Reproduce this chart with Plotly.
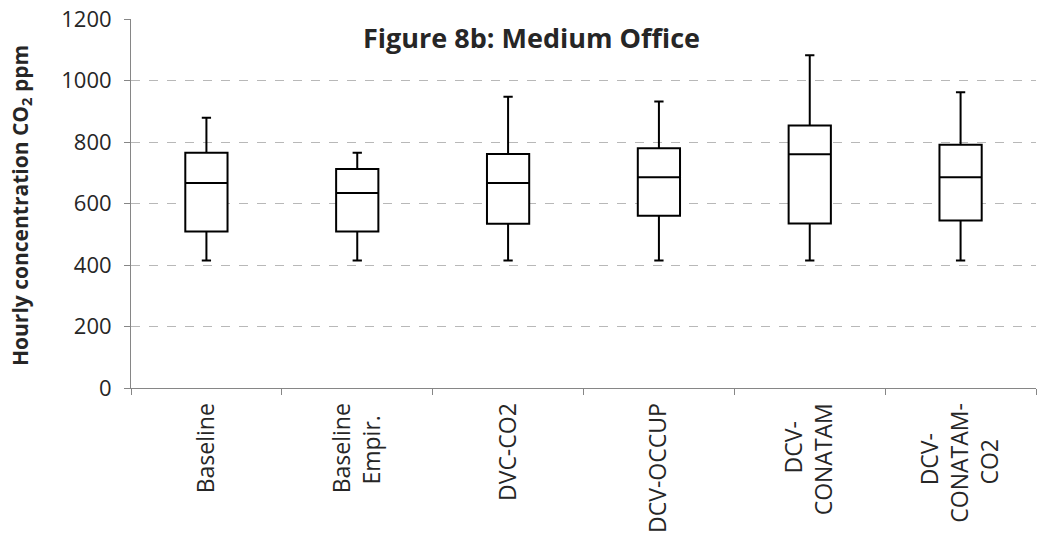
import plotly.graph_objects as go

categories = ["Baseline", "Baseline<br>Empir.", "DVC-CO2", "DCV-OCCUP",
              "DCV-<br>CONATAM", "DCV-<br>CONATAM-<br>CO2"]
lower = [415, 415, 415, 415, 415, 415]
q1 = [509, 509, 534, 560, 535, 545]
median = [667, 634, 667, 685, 760, 685]
q3 = [765, 712, 761, 780, 854, 791]
upper = [879, 765, 947, 932, 1082, 962]
y_ticks = [0, 200, 400, 600, 800, 1000, 1200]

FONT = "Open Sans"
NB = "\u00a0"


def centre_lines(label):
    # tick labels rotated -90 are end-anchored; pad short lines so each
    # line is centred on the longest one, as in the reference
    lines = label.split("<br>")
    longest = max(len(s) for s in lines)
    out = []
    for s in lines:
        pad = int(round((longest - len(s)) * 1.15))
        out.append(s + NB * pad)
    return "<br>".join(out)


ticktext = [centre_lines(c) for c in categories]

fig = go.Figure()
fig.add_trace(go.Box(
    x=categories, q1=q1, median=median, q3=q3,
    lowerfence=lower, upperfence=upper,
    fillcolor="white", line=dict(color="black", width=2),
    whiskerwidth=0.22, boxpoints=False, showlegend=False,
))

fig.update_layout(
    width=1038, height=542,
    margin=dict(l=131, r=2, t=19, b=154),
    paper_bgcolor="white", plot_bgcolor="white",
    boxgap=0.6,
    font=dict(family=FONT, color="#262626"),
    xaxis=dict(
        type="category", tickangle=-90, tickson="boundaries",
        tickvals=categories, ticktext=ticktext,
        ticks="outside", ticklen=6, tickcolor="#868686",
        showline=True, linecolor="#868686", linewidth=1,
        ticklabelstandoff=5,
        showgrid=False, tickfont=dict(size=23, family=FONT, color="#262626"),
    ),
    yaxis=dict(
        range=[0, 1200], tickvals=y_ticks,
        ticks="outside", ticklen=6, tickcolor="#868686",
        showline=True, linecolor="#868686", linewidth=1,
        showgrid=True, gridcolor="#b8b8b8", griddash="dash", gridwidth=1,
        zeroline=False, ticklabelstandoff=8,
        tickfont=dict(size=22, family=FONT, color="#262626"),
    ),
    annotations=[
        dict(text="<b>Figure 8b: Medium Office</b>", xref="paper", yref="paper",
             x=(531 - 131) / 905, y=(388 - 37) / 369, yanchor="middle",
             xanchor="center", showarrow=False,
             font=dict(size=27, family=FONT, color="#262626")),
        dict(text="<b>Hourly concentration CO<sub>2</sub> ppm</b>",
             xref="paper", yref="paper", x=(21 - 131) / 905, y=(388 - 206) / 369,
             xanchor="center", yanchor="middle",
             textangle=-90, showarrow=False,
             font=dict(size=21, family=FONT, color="#262626")),
    ],
)

fig.write_html("out.html")
